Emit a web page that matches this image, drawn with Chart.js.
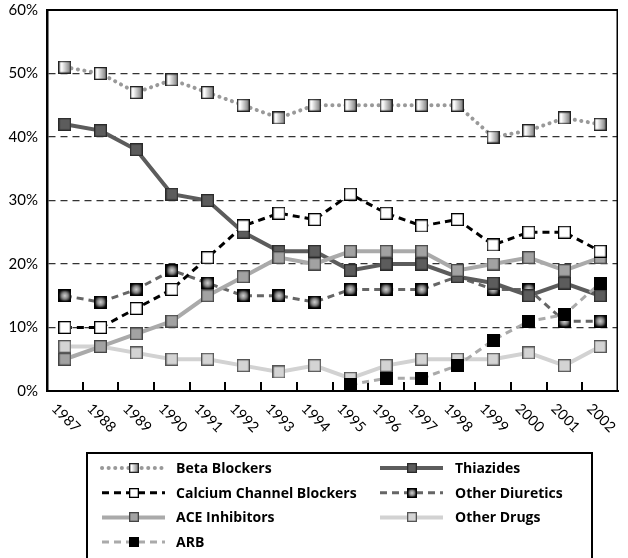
<!DOCTYPE html>
<html>
<head>
<meta charset="utf-8">
<script src="https://cdn.jsdelivr.net/npm/chart.js@4/dist/chart.umd.min.js"></script>
<style>
html,body{margin:0;padding:0;background:#fff;}
canvas{display:block;}
</style>
</head>
<body>
<canvas id="c" width="628" height="558"></canvas>
<script>
const years = ['1987','1988','1989','1990','1991','1992','1993','1994','1995','1996','1997','1998','1999','2000','2001','2002'];
const yTicks = [0,10,20,30,40,50,60];
const betaBlockers   = [51,50,47,49,47,45,43,45,45,45,45,45,40,41,43,42];
const thiazides      = [42,41,38,31,30,25,22,22,19,20,20,18,17,15,17,15];
const calciumCB      = [10,10,13,16,21,26,28,27,31,28,26,27,23,25,25,22];
const otherDiuretics = [15,14,16,19,17,15,15,14,16,16,16,18,16,16,11,11];
const aceInhibitors  = [5,7,9,11,15,18,21,20,22,22,22,19,20,21,19,21];
const otherDrugs     = [7,7,6,5,5,4,3,4,2,4,5,5,5,6,4,7];
const arb            = [null,null,null,null,null,null,null,null,1,2,2,4,8,11,12,17];

const FONT = 'Lato, "Open Sans", sans-serif';
const LFONT = '"Open Sans", Lato, sans-serif';

function marker(size, fillFn, stroke) {
  const c = document.createElement('canvas');
  c.width = size; c.height = size;
  const g = c.getContext('2d');
  g.fillStyle = fillFn(g, size);
  g.fillRect(0, 0, size, size);
  g.strokeStyle = stroke;
  g.lineWidth = 1.3;
  g.strokeRect(0.65, 0.65, size - 1.3, size - 1.3);
  return c;
}
function betaFill(g, s) { const gr = g.createLinearGradient(0,0,s,0); gr.addColorStop(0,'#d8d8d8'); gr.addColorStop(0.25,'#ffffff'); gr.addColorStop(1,'#707070'); return gr; }
function diurFill(g, s) { const gr = g.createRadialGradient(s/2,s/2,0,s/2,s/2,s*0.6); gr.addColorStop(0,'#d0d0d0'); gr.addColorStop(0.4,'#8a8a8a'); gr.addColorStop(0.8,'#101010'); gr.addColorStop(1,'#000'); return gr; }
const solid = c => () => c;

function makeMarkers(size) {
  return {
    beta: marker(size, betaFill, '#222'),
    thz: marker(size, solid('#5c5c5c'), '#2a2a2a'),
    ccb: marker(size, solid('#ffffff'), '#000'),
    diur: marker(size, diurFill, '#000'),
    ace: marker(size, solid('#a2a2a2'), '#444'),
    od: marker(size, solid('#d4d4d4'), '#555'),
    arb: marker(size, solid('#000000'), '#000')
  };
}
const M = makeMarkers(13);
const ML = makeMarkers(10);

const DASH = [7,5];
const datasets = [
  {label:'Beta Blockers', key:'beta', data:betaBlockers, borderColor:'#999', borderWidth:4, borderDash:[0.1,6.5], borderCapStyle:'round'},
  {label:'Calcium Channel Blockers', key:'ccb', data:calciumCB, borderColor:'#000', borderWidth:3, borderDash:DASH},
  {label:'ACE Inhibitors', key:'ace', data:aceInhibitors, borderColor:'#aaa', borderWidth:4, borderDash:[]},
  {label:'ARB', key:'arb', data:arb, borderColor:'#aaa', borderWidth:3, borderDash:DASH},
  {label:'Thiazides', key:'thz', data:thiazides, borderColor:'#5c5c5c', borderWidth:4, borderDash:[]},
  {label:'Other Diuretics', key:'diur', data:otherDiuretics, borderColor:'#666', borderWidth:3, borderDash:DASH},
  {label:'Other Drugs', key:'od', data:otherDrugs, borderColor:'#d2d2d2', borderWidth:4, borderDash:[]}
].map(d => Object.assign({
  pointStyle: M[d.key], pointRadius: 6, pointHoverRadius: 6, tension: 0, fill: false, spanGaps: false
}, d));

const legendCols = [
  ['Beta Blockers','Calcium Channel Blockers','ACE Inhibitors','ARB'],
  ['Thiazides','Other Diuretics','Other Drugs']
];

const framePlugin = {
  id: 'frame',
  beforeDatasetsDraw(chart) {
    const {ctx, chartArea: a, scales: {x}} = chart;
    ctx.save();
    ctx.strokeStyle = '#000';
    ctx.lineWidth = 2;
    ctx.beginPath(); ctx.moveTo(a.left, a.top); ctx.lineTo(a.right, a.top); ctx.stroke();
    ctx.lineWidth = 1.5;
    ctx.beginPath(); ctx.moveTo(a.right - 0.75, a.top); ctx.lineTo(a.right - 0.75, a.bottom); ctx.stroke();
    ctx.lineWidth = 2;
    for (let i = 0; i < years.length - 1; i++) {
      const bx = Math.round((x.getPixelForValue(i) + x.getPixelForValue(i + 1)) / 2);
      ctx.beginPath(); ctx.moveTo(bx, a.bottom); ctx.lineTo(bx, a.bottom - 9); ctx.stroke();
    }
    ctx.restore();
  },
  afterDraw(chart) {
    const {ctx, chartArea: a, scales: {x}} = chart;
    ctx.save();
    ctx.fillStyle = '#000';
    ctx.font = '14.5px ' + FONT;
    ctx.textAlign = 'center';
    ctx.textBaseline = 'middle';
    years.forEach((yr, i) => {
      ctx.save();
      ctx.translate(x.getPixelForValue(i) + 1, a.bottom + 27);
      ctx.rotate(Math.PI / 4);
      ctx.fillText(yr, 0, 0);
      ctx.restore();
    });
    // legend box
    ctx.strokeStyle = '#000';
    ctx.lineWidth = 2;
    ctx.strokeRect(87, 453, 505, 130);
    const colX = [[102, 165, 176], [380, 443, 455]];
    const rowY0 = 468, rowH = 24.7;
    ctx.font = 'bold 14px ' + LFONT;
    ctx.textAlign = 'left';
    legendCols.forEach((col, ci) => {
      col.forEach((lbl, ri) => {
        const ds = datasets.find(d => d.label === lbl);
        const y = rowY0 + ri * rowH;
        const [x0, x1, tx] = colX[ci];
        ctx.save();
        ctx.strokeStyle = ds.borderColor;
        ctx.lineWidth = ds.borderWidth;
        ctx.setLineDash(ds.borderDash);
        ctx.lineCap = ds.borderCapStyle || 'butt';
        ctx.beginPath(); ctx.moveTo(x0, y); ctx.lineTo(x1, y); ctx.stroke();
        ctx.restore();
        const m = ML[ds.key];
        const cx = (x0 + x1) / 2;
        ctx.drawImage(m, Math.round(cx - m.width / 2), Math.round(y - m.height / 2));
        ctx.fillStyle = '#000';
        ctx.fillText(lbl, tx, y + 1);
      });
    });
    ctx.restore();
  }
};

new Chart(document.getElementById('c'), {
  type: 'line',
  data: { labels: years, datasets },
  options: {
    responsive: false,
    animation: false,
    devicePixelRatio: 1,
    layout: { padding: { top: 9, right: 1, left: 0, bottom: 0 } },
    plugins: { legend: { display: false }, tooltip: { enabled: false } },
    scales: {
      x: {
        type: 'category',
        offset: true,
        grid: { display: false },
        border: { display: true, color: '#000', width: 2 },
        ticks: { display: false },
        afterFit(s) { s.height = 167; s.paddingLeft = 0; s.paddingRight = 0; }
      },
      y: {
        min: 0, max: 60,
        afterBuildTicks(s) { s.ticks = yTicks.map(v => ({ value: v })); },
        ticks: {
          stepSize: 10,
          callback: v => v + '%',
          color: '#000',
          font: { family: FONT, size: 15 },
          padding: 9
        },
        grid: { color: '#333', lineWidth: 1.2, drawTicks: false },
        border: { display: true, color: '#000', width: 2.5, dash: [7,5] },
        afterFit(s) { s.width = 47; s.paddingTop = 0; s.paddingBottom = 0; }
      }
    }
  },
  plugins: [framePlugin]
});
</script>
</body>
</html>
